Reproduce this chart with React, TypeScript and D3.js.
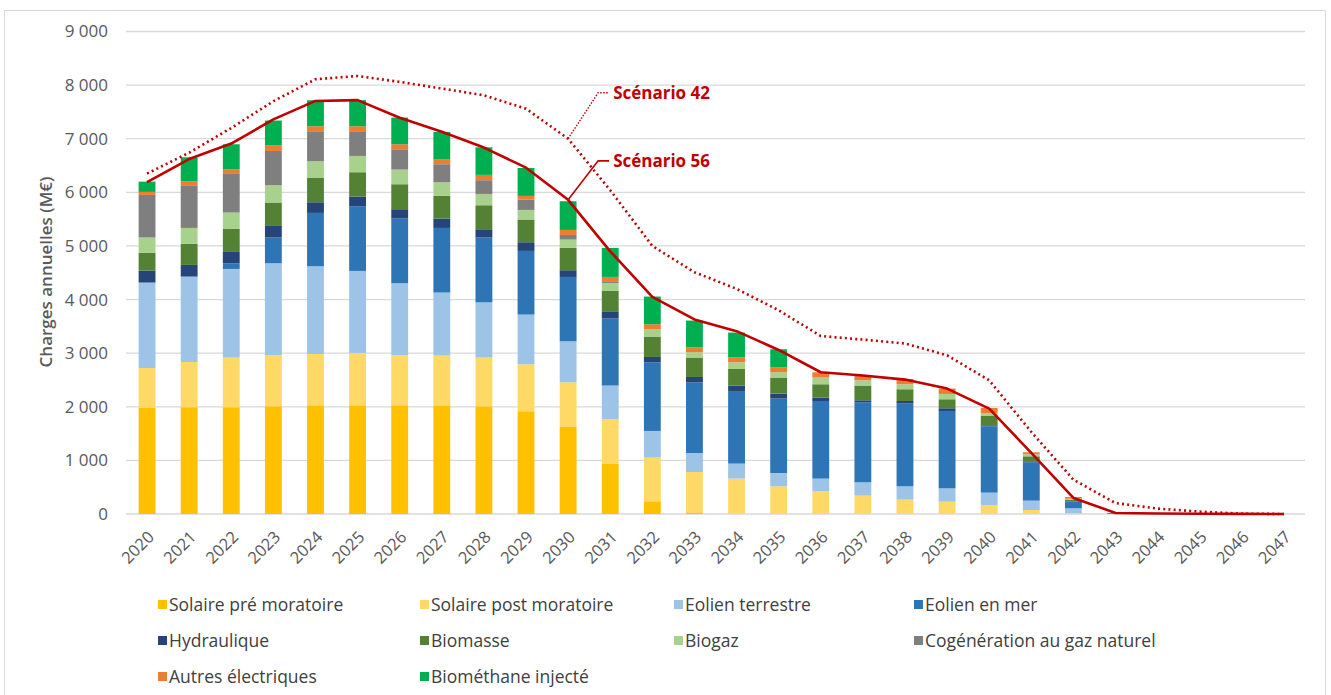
import React from "react";
import * as d3 from "d3";

const years = [2020, 2021, 2022, 2023, 2024, 2025, 2026, 2027, 2028, 2029, 2030, 2031, 2032, 2033, 2034, 2035, 2036, 2037, 2038, 2039, 2040, 2041, 2042, 2043, 2044, 2045, 2046, 2047];

const solairePre = [1978, 1991, 1991, 2009, 2028, 2028, 2028, 2028, 2009, 1916, 1623, 933, 237, 30, 0, 0, 0, 0, 0, 0, 0, 0, 0, 0, 0, 0, 0, 0];
const solairePost = [746, 845, 927, 957, 957, 976, 938, 927, 909, 877, 834, 834, 815, 754, 660, 517, 429, 343, 269, 231, 168, 75, 13, 0, 0, 0, 0, 0];
const eolienTerrestre = [1593, 1593, 1653, 1711, 1636, 1530, 1338, 1176, 1029, 927, 765, 629, 497, 354, 280, 248, 231, 248, 248, 248, 231, 175, 93, 0, 0, 0, 0, 0];
const eolienMer = [0, 0, 106, 480, 995, 1207, 1207, 1205, 1210, 1187, 1200, 1250, 1281, 1319, 1355, 1388, 1448, 1493, 1543, 1443, 1237, 715, 118, 15, 0, 0, 0, 0];
const hydraulique = [224, 217, 211, 216, 199, 181, 174, 175, 154, 162, 125, 123, 99, 99, 101, 93, 64, 37, 48, 50, 19, 18, 5, 0, 0, 0, 0, 0];
const biomasse = [329, 391, 429, 437, 461, 453, 466, 422, 448, 424, 416, 391, 381, 362, 309, 299, 248, 275, 219, 168, 181, 93, 37, 0, 0, 0, 0, 0];
const biogaz = [287, 299, 306, 322, 304, 304, 274, 255, 211, 179, 156, 150, 141, 99, 125, 99, 125, 98, 93, 99, 43, 38, 19, 0, 0, 0, 0, 0];
const cogeneration = [795, 796, 720, 640, 547, 448, 366, 336, 256, 194, 86, 31, 0, 0, 0, 0, 0, 0, 0, 0, 0, 0, 0, 0, 0, 0, 0, 0];
const autresElectriques = [56, 74, 88, 107, 106, 106, 106, 88, 99, 67, 94, 81, 88, 93, 93, 93, 99, 81, 99, 101, 99, 37, 32, 0, 0, 0, 0, 0];
const biomethane = [192, 448, 466, 460, 485, 487, 498, 515, 515, 522, 535, 541, 517, 498, 461, 336, 0, 0, 0, 0, 0, 0, 0, 0, 0, 0, 0, 0];

const scenario56 = [6190, 6620, 6910, 7360, 7705, 7720, 7390, 7130, 6835, 6460, 5860, 4900, 4050, 3630, 3410, 3060, 2644, 2582, 2507, 2340, 1966, 1140, 300, 20, 10, 5, 3, 0];
const scenario42 = [6350, 6740, 7200, 7700, 8110, 8170, 8060, 7937, 7810, 7560, 7000, 6040, 5000, 4510, 4200, 3800, 3320, 3253, 3180, 2960, 2494, 1530, 640, 205, 100, 45, 7, 0];

const yTicks = [0, 1000, 2000, 3000, 4000, 5000, 6000, 7000, 8000, 9000];

const seriesNames = [
  "Solaire pré moratoire",
  "Solaire post moratoire",
  "Eolien terrestre",
  "Eolien en mer",
  "Hydraulique",
  "Biomasse",
  "Biogaz",
  "Cogénération au gaz naturel",
  "Autres électriques",
  "Biométhane injecté",
];
const seriesValues = [solairePre, solairePost, eolienTerrestre, eolienMer, hydraulique, biomasse, biogaz, cogeneration, autresElectriques, biomethane];
const seriesColors = ["#FFC000", "#FFD966", "#9DC3E6", "#2E75B6", "#264478", "#548235", "#A9D18E", "#7F7F7F", "#ED7D31", "#00B050"];

const W = 1331;
const H = 695;
const FONT = "'Open Sans', 'DejaVu Sans', sans-serif";
const RED = "#C00000";

export default function App() {
  const table = years.map((yr, i) => {
    const row: any = { year: yr };
    seriesNames.forEach((n, k) => (row[n] = seriesValues[k][i]));
    return row;
  });
  const stacked = d3.stack().keys(seriesNames)(table);

  const x = d3.scaleBand<number>().domain(years).range([126, 1305]).paddingInner(0.6).paddingOuter(0.3);
  const y = d3.scaleLinear().domain([0, 9000]).range([514, 31.5]);
  const cx = (yr: number) => (x(yr) as number) + x.bandwidth() / 2;

  const fr = d3.formatLocale({ decimal: ",", thousands: " ", grouping: [3], currency: ["", " €"] });
  const fmt = fr.format(",d");

  const line = d3
    .line<number>()
    .x((_, i) => cx(years[i]))
    .y((d) => y(d));

  const iAnn = years.indexOf(2030);
  const a42 = { x: cx(2030), y: y(scenario42[iAnn]) };
  const a56 = { x: cx(2030), y: y(scenario56[iAnn]) };

  const legendCols = [158, 420, 674, 914];
  const legendRows = [605, 641, 677];

  return (
    <svg width={W} height={H} style={{ position: "absolute", left: 0, top: 0, background: "#fff" }} fontFamily={FONT}>
      <rect x={4.5} y={10.5} width={1321} height={700} fill="#fff" stroke="#D9D9D9" strokeWidth={1} />
      {/* gridlines */}
      {yTicks.map((t) => (
        <line key={t} x1={126} x2={1305} y1={y(t)} y2={y(t)} stroke="#D9D9D9" strokeWidth={1.3} />
      ))}
      {yTicks.map((t) => (
        <text key={"l" + t} x={108} y={y(t)} dy="0.35em" textAnchor="end" fontSize={17} fill="#595959">
          {fmt(t)}
        </text>
      ))}
      <text
        transform={`translate(46, 272) rotate(-90)`}
        textAnchor="middle"
        dy="0.35em"
        fontSize={17}
        fontWeight={600}
        fill="#595959"
      >
        Charges annuelles (M€)
      </text>
      {/* bars */}
      {stacked.map((s, k) => (
        <g key={s.key} fill={seriesColors[k]}>
          {s.map((d: any, i: number) =>
            d[1] - d[0] > 0 ? (
              <rect key={i} x={x(years[i])} width={x.bandwidth()} y={y(d[1])} height={y(d[0]) - y(d[1])} />
            ) : null
          )}
        </g>
      ))}
      {/* x labels */}
      {years.map((yr) => (
        <text
          key={yr}
          transform={`translate(${cx(yr) + 4}, 534) rotate(-45)`}
          textAnchor="end"
          dy="0.35em"
          fontSize={16.5}
          fill="#595959"
        >
          {yr}
        </text>
      ))}
      {/* scenario lines */}
      <path d={line(scenario42) as string} fill="none" stroke={RED} strokeWidth={2.6} strokeDasharray="2 3.2" />
      <path d={line(scenario56) as string} fill="none" stroke={RED} strokeWidth={2.6} strokeLinejoin="round" />
      {/* annotations */}
      <polyline
        points={`${a42.x},${a42.y} ${a42.x + 30},${a42.y - 46} ${a42.x + 41},${a42.y - 46}`}
        fill="none"
        stroke={RED}
        strokeWidth={1.4}
        strokeDasharray="1.5 1.5"
      />
      <text x={a42.x + 45} y={a42.y - 46} dy="0.35em" fontSize={17} fontWeight={700} fill={RED}>
        Scénario 42
      </text>
      <polyline
        points={`${a56.x},${a56.y} ${a56.x + 30},${a56.y - 39} ${a56.x + 41},${a56.y - 39}`}
        fill="none"
        stroke={RED}
        strokeWidth={1.6}
      />
      <text x={a56.x + 45} y={a56.y - 39} dy="0.35em" fontSize={17} fontWeight={700} fill={RED}>
        Scénario 56
      </text>
      {/* legend */}
      {seriesNames.map((n, k) => {
        const col = k % 4;
        const row = Math.floor(k / 4);
        const lx = legendCols[col];
        const ly = legendRows[row];
        return (
          <g key={n}>
            <rect x={lx} y={ly - 5} width={9} height={9} fill={seriesColors[k]} />
            <text x={lx + 11} y={ly} dy="0.35em" fontSize={17.5} fill="#404040">
              {n}
            </text>
          </g>
        );
      })}
    </svg>
  );
}
